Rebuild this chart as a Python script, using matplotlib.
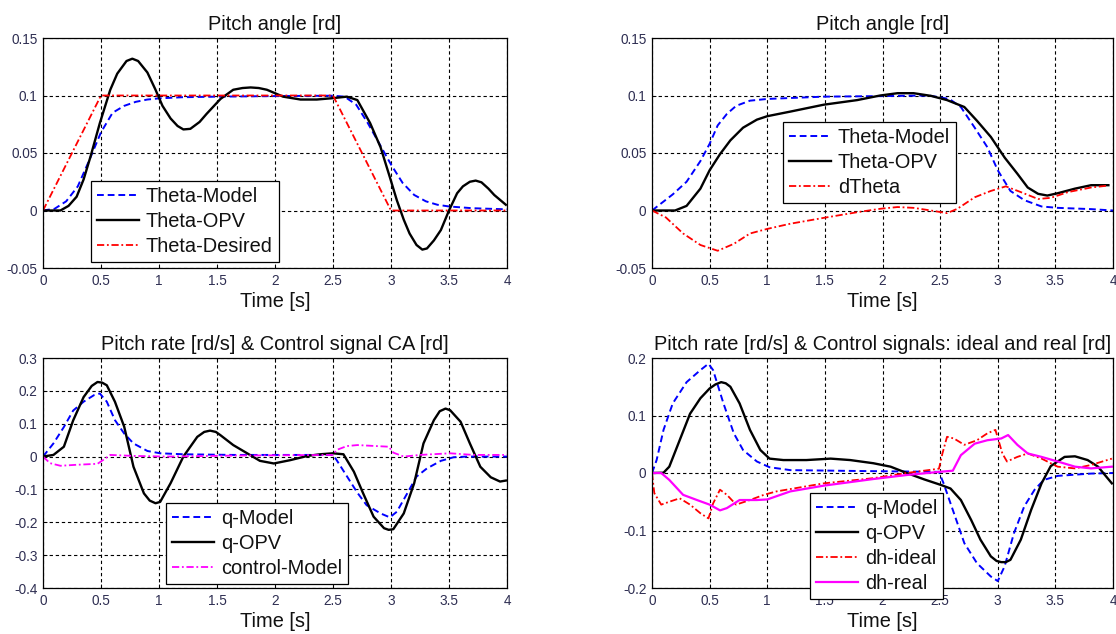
import matplotlib
matplotlib.use("Agg")
import matplotlib.pyplot as plt

plt.rcParams['font.family'] = ['Liberation Sans', 'DejaVu Sans']

# ---------------- Panel 1 : Pitch angle (top-left) ----------------
t1_desired = [0, 0.5, 2.5, 3.0, 4.0]
theta_desired = [0, 0.1, 0.1, 0, 0]

t1_model = [0, 0.1, 0.2, 0.3, 0.4, 0.5, 0.6, 0.7, 0.8, 0.9, 1.0, 1.2, 1.5, 2.0,
            2.5, 2.6, 2.7, 2.8, 2.9, 3.0, 3.1, 3.2, 3.3, 3.4, 3.5, 3.7, 4.0]
theta_model1 = [0, 0.0015, 0.008, 0.021, 0.044, 0.068, 0.085, 0.091, 0.0945, 0.0965,
                0.0975, 0.0985, 0.099, 0.0995, 0.0998, 0.099, 0.092, 0.076, 0.058,
                0.040, 0.024, 0.0135, 0.008, 0.005, 0.0035, 0.002, 0.001]

t1_opv = [0, 0.15, 0.22, 0.29, 0.35, 0.41, 0.49, 0.58, 0.64, 0.72, 0.77, 0.82, 0.9,
          0.97, 1.03, 1.1, 1.16, 1.21, 1.27, 1.35, 1.41, 1.53, 1.64, 1.72, 1.79,
          1.86, 1.93, 2.07, 2.22, 2.36, 2.5, 2.62, 2.71, 2.82, 2.91, 2.99, 3.05,
          3.11, 3.16, 3.22, 3.27, 3.31, 3.37, 3.43, 3.5, 3.57, 3.62, 3.68, 3.73,
          3.78, 3.84, 3.89, 3.99]
theta_opv1 = [0, 0, 0.004, 0.012, 0.027, 0.047, 0.076, 0.105, 0.119, 0.130, 0.132,
              0.130, 0.120, 0.105, 0.091, 0.080, 0.0735, 0.0705, 0.071, 0.077, 0.084,
              0.097, 0.105, 0.1065, 0.107, 0.1065, 0.105, 0.099, 0.0965, 0.0965,
              0.0977, 0.099, 0.096, 0.076, 0.055, 0.029, 0.009, -0.008, -0.020,
              -0.030, -0.034, -0.033, -0.026, -0.017, 0.0, 0.015, 0.021, 0.025,
              0.026, 0.0245, 0.019, 0.0135, 0.005]

# ---------------- Panel 2 : Pitch angle (top-right) ----------------
t2_model = [0, 0.18, 0.3, 0.42, 0.5, 0.57, 0.65, 0.73, 0.85, 1.0, 1.49, 2.0, 2.4,
            2.58, 2.68, 2.8, 2.91, 3.0, 3.11, 3.23, 3.38, 3.52, 3.81, 4.0]
theta_model2 = [0, 0.014, 0.025, 0.043, 0.058, 0.074, 0.084, 0.091, 0.0955, 0.097,
                0.099, 0.0995, 0.1, 0.097, 0.09, 0.072, 0.055, 0.035, 0.017, 0.009,
                0.0035, 0.0023, 0.0012, 0.0]

t2_opv = [0, 0.2, 0.3, 0.42, 0.5, 0.59, 0.68, 0.79, 0.91, 1.0, 1.2, 1.49, 1.78,
          1.98, 2.13, 2.27, 2.42, 2.56, 2.71, 2.82, 2.94, 3.06, 3.17, 3.26, 3.35,
          3.43, 3.52, 3.67, 3.81, 3.96]
theta_opv2 = [0, 0, 0.004, 0.019, 0.035, 0.049, 0.061, 0.072, 0.079, 0.082, 0.086,
              0.092, 0.096, 0.100, 0.102, 0.102, 0.0997, 0.096, 0.090, 0.078, 0.064,
              0.046, 0.032, 0.020, 0.0145, 0.013, 0.015, 0.019, 0.022, 0.022]

t2_dtheta = [0, 0.12, 0.27, 0.42, 0.57, 0.71, 0.85, 1.0, 1.2, 1.49, 1.78, 1.98,
             2.13, 2.27, 2.42, 2.56, 2.65, 2.8, 2.94, 3.07, 3.2, 3.35, 3.46, 3.61,
             3.81, 3.96]
dtheta = [0, -0.006, -0.020, -0.030, -0.035, -0.029, -0.020, -0.016, -0.0115,
          -0.0064, -0.0015, 0.0015, 0.003, 0.0023, 0.0, -0.0023, 0.0015, 0.0115,
          0.017, 0.021, 0.016, 0.010, 0.011, 0.016, 0.020, 0.0217]

# ---------------- Panel 3 : Pitch rate & control CA (bottom-left) ----------------
t3_qmodel = [0, 0.09, 0.18, 0.26, 0.35, 0.44, 0.49, 0.55, 0.62, 0.7, 0.78, 0.9,
             1.01, 1.21, 1.64, 2.5, 2.53, 2.62, 2.71, 2.79, 2.91, 2.99, 3.05, 3.14,
             3.22, 3.31, 3.43, 3.54, 3.66, 4.0]
q_model3 = [0, 0.04, 0.09, 0.14, 0.167, 0.187, 0.192, 0.167, 0.111, 0.07, 0.04,
            0.017, 0.01, 0.007, 0.005, 0.005, -0.01, -0.06, -0.11, -0.148, -0.173,
            -0.185, -0.168, -0.112, -0.061, -0.036, -0.013, -0.002, 0.0, 0.0]

t3_qopv = [0, 0.09, 0.18, 0.26, 0.35, 0.42, 0.47, 0.51, 0.55, 0.62, 0.7, 0.78,
           0.87, 0.92, 0.97, 1.01, 1.1, 1.21, 1.33, 1.39, 1.44, 1.49, 1.53, 1.64,
           1.76, 1.87, 1.99, 2.13, 2.28, 2.39, 2.5, 2.59, 2.68, 2.76, 2.85, 2.94,
           2.98, 3.02, 3.11, 3.2, 3.28, 3.37, 3.42, 3.47, 3.51, 3.6, 3.68, 3.77,
           3.86, 3.94, 3.99]
q_opv3 = [0, 0.005, 0.03, 0.11, 0.181, 0.215, 0.227, 0.225, 0.217, 0.167, 0.091,
          -0.031, -0.112, -0.134, -0.142, -0.138, -0.081, 0.0, 0.06, 0.075, 0.079,
          0.075, 0.065, 0.035, 0.01, -0.013, -0.021, -0.011, 0.002, 0.007, 0.01,
          0.007, -0.046, -0.112, -0.183, -0.218, -0.223, -0.221, -0.173, -0.081,
          0.04, 0.111, 0.138, 0.146, 0.141, 0.106, 0.04, -0.031, -0.063, -0.076,
          -0.073]

t3_ctrl = [0, 0.06, 0.15, 0.29, 0.47, 0.52, 0.58, 0.78, 1.07, 1.64, 2.5, 2.53,
           2.62, 2.71, 2.98, 3.02, 3.11, 3.25, 3.51, 3.71, 4.0]
control_model = [0, -0.02, -0.028, -0.025, -0.022, -0.01, 0.005, 0.002, 0.0, 0.003,
                 0.005, 0.02, 0.032, 0.035, 0.03, 0.012, 0.0, 0.005, 0.01, 0.005,
                 0.005]

# ---------------- Panel 4 : Pitch rate & control ideal/real (bottom-right) ----------------
t4_qmodel = [0, 0.04, 0.1, 0.18, 0.3, 0.42, 0.49, 0.53, 0.62, 0.71, 0.79, 0.91,
             1.02, 1.2, 1.78, 2.49, 2.53, 2.62, 2.71, 2.82, 2.94, 3.0, 3.06, 3.14,
             3.23, 3.32, 3.4, 3.52, 3.81, 4.0]
q_model4 = [0, 0.0225, 0.075, 0.121, 0.158, 0.179, 0.19, 0.179, 0.121, 0.069,
            0.04, 0.02, 0.01, 0.005, 0.0035, 0.002, -0.018, -0.07, -0.122, -0.157,
            -0.18, -0.188, -0.162, -0.105, -0.058, -0.029, -0.012, -0.005, -0.001,
            0.0]

t4_qopv = [0, 0.1, 0.15, 0.24, 0.33, 0.42, 0.5, 0.55, 0.6, 0.64, 0.68, 0.76, 0.85,
           0.94, 1.02, 1.14, 1.34, 1.55, 1.72, 1.92, 2.07, 2.21, 2.36, 2.51, 2.59,
           2.68, 2.77, 2.85, 2.94, 2.99, 3.03, 3.07, 3.11, 3.2, 3.29, 3.38, 3.46,
           3.58, 3.67, 3.78, 3.87, 3.99]
q_opv4 = [0, 0.0005, 0.011, 0.057, 0.103, 0.13, 0.147, 0.154, 0.158, 0.156, 0.15,
          0.121, 0.075, 0.04, 0.025, 0.0225, 0.0225, 0.025, 0.0225, 0.017, 0.011,
          0.0, -0.011, -0.021, -0.027, -0.047, -0.082, -0.116, -0.145, -0.153,
          -0.155, -0.155, -0.151, -0.116, -0.064, -0.018, 0.012, 0.028, 0.029,
          0.0225, 0.011, -0.018]

t4_ideal = [0, 0.02, 0.08, 0.15, 0.24, 0.33, 0.42, 0.49, 0.53, 0.59, 0.65, 0.73,
            0.85, 0.97, 1.08, 1.49, 1.92, 2.21, 2.49, 2.52, 2.56, 2.62, 2.71, 2.82,
            2.91, 2.98, 3.04, 3.08, 3.17, 3.26, 3.38, 3.52, 3.67, 3.81, 3.99]
dh_ideal = [0, -0.035, -0.055, -0.05, -0.044, -0.055, -0.07, -0.079, -0.053,
            -0.029, -0.038, -0.055, -0.047, -0.038, -0.032, -0.018, -0.009, 0.0,
            0.0075, 0.034, 0.063, 0.06, 0.049, 0.057, 0.069, 0.075, 0.034, 0.02,
            0.028, 0.034, 0.025, 0.011, 0.008, 0.014, 0.025]

t4_real = [0, 0.08, 0.15, 0.27, 0.39, 0.5, 0.59, 0.65, 0.76, 0.91, 1.0, 1.2, 1.49,
           1.92, 2.21, 2.51, 2.61, 2.68, 2.8, 2.91, 3.03, 3.09, 3.17, 3.26, 3.38,
           3.52, 3.67, 3.81, 3.99]
dh_real = [0, 0.0, -0.012, -0.038, -0.047, -0.055, -0.065, -0.061, -0.047, -0.047,
           -0.046, -0.032, -0.022, -0.0105, -0.0035, 0.0023, 0.004, 0.031, 0.051,
           0.057, 0.06, 0.066, 0.049, 0.034, 0.028, 0.02, 0.011, 0.008, 0.011]

# ---------------- tick labels ----------------
xticks = [0, 0.5, 1, 1.5, 2, 2.5, 3, 3.5, 4]
xticklabels = ['0', '0.5', '1', '1.5', '2', '2.5', '3', '3.5', '4']
yticks_angle = [-0.05, 0, 0.05, 0.1, 0.15]
yticklabels_angle = ['-0.05', '0', '0.05', '0.1', '0.15']
yticks_rate3 = [-0.4, -0.3, -0.2, -0.1, 0, 0.1, 0.2, 0.3]
yticklabels_rate3 = ['-0.4', '-0.3', '-0.2', '-0.1', '0', '0.1', '0.2', '0.3']
yticks_rate4 = [-0.2, -0.1, 0, 0.1, 0.2]
yticklabels_rate4 = ['-0.2', '-0.1', '0', '0.1', '0.2']

# ---------------- figure ----------------
W, H = 1116, 634
fig = plt.figure(figsize=(W / 100, H / 100), dpi=100)

def px_axes(l, t, r, b):
    return fig.add_axes([l / W, 1 - b / H, (r - l) / W, (b - t) / H])

ax1 = px_axes(43, 38, 507, 268)
ax2 = px_axes(652, 38, 1113, 268)
ax3 = px_axes(43, 358, 507, 588)
ax4 = px_axes(652, 358, 1113, 588)

TICK_COLOR = '#2e2e52'
LBL = 14.4
TCK = 9.8

def style(ax, yt, ytl, ylim, title):
    ax.set_xlim(0, 4)
    ax.set_ylim(*ylim)
    ax.set_xticks(xticks)
    ax.set_xticklabels(xticklabels)
    ax.set_yticks(yt)
    ax.set_yticklabels(ytl)
    ax.tick_params(direction='in', length=3, width=0.6, colors='black',
                   labelcolor=TICK_COLOR, labelsize=TCK, top=True, right=True, pad=4)
    ax.grid(True, color='black', linestyle=(0, (3, 2.5)), linewidth=0.8)
    for s in ax.spines.values():
        s.set_linewidth(0.9)
        s.set_color('black')
    ax.set_title(title, fontsize=LBL, pad=6, color='#111111')
    ax.set_xlabel('Time [s]', fontsize=LBL, labelpad=3, color='#111111')

def legend(ax, x, y):
    lg = ax.legend(loc='upper left', bbox_to_anchor=(x, y), fontsize=LBL,
                   frameon=True, fancybox=False, edgecolor='black', framealpha=1,
                   handlelength=2.1, handletextpad=0.35, labelspacing=0.3,
                   borderpad=0.3, borderaxespad=0)
    lg.get_frame().set_linewidth(0.9)
    for txt in lg.get_texts():
        txt.set_color('#111111')
    return lg

BLUE = (0, 0, 1)
RED = (1, 0, 0)
MAG = (1, 0, 1)
DASH = (0, (3.5, 2))
DASHDOT = (0, (4, 1.5, 1, 1.5))

# Panel 1
ax1.plot(t1_model, theta_model1, color=BLUE, ls=DASH, lw=1.4, label='Theta-Model')
ax1.plot(t1_opv, theta_opv1, color='black', lw=1.7, label='Theta-OPV')
ax1.plot(t1_desired, theta_desired, color=RED, ls=DASHDOT, lw=1.3, label='Theta-Desired')
style(ax1, yticks_angle, yticklabels_angle, (-0.05, 0.15), 'Pitch angle [rd]')
legend(ax1, 0.103, 0.378)

# Panel 2
ax2.plot(t2_model, theta_model2, color=BLUE, ls=DASH, lw=1.4, label='Theta-Model')
ax2.plot(t2_opv, theta_opv2, color='black', lw=1.7, label='Theta-OPV')
ax2.plot(t2_dtheta, dtheta, color=RED, ls=DASHDOT, lw=1.3, label='dTheta')
style(ax2, yticks_angle, yticklabels_angle, (-0.05, 0.15), 'Pitch angle [rd]')
legend(ax2, 0.284, 0.635)

# Panel 3
ax3.plot(t3_qmodel, q_model3, color=BLUE, ls=DASH, lw=1.4, label='q-Model')
ax3.plot(t3_qopv, q_opv3, color='black', lw=1.7, label='q-OPV')
ax3.plot(t3_ctrl, control_model, color=MAG, ls=DASHDOT, lw=1.3, label='control-Model')
style(ax3, yticks_rate3, yticklabels_rate3, (-0.4, 0.3),
      'Pitch rate [rd/s] & Control signal CA [rd]')
legend(ax3, 0.265, 0.37)

# Panel 4
ax4.plot(t4_qmodel, q_model4, color=BLUE, ls=DASH, lw=1.4, label='q-Model')
ax4.plot(t4_qopv, q_opv4, color='black', lw=1.7, label='q-OPV')
ax4.plot(t4_ideal, dh_ideal, color=RED, ls=DASHDOT, lw=1.3, label='dh-ideal')
ax4.plot(t4_real, dh_real, color=MAG, lw=1.6, label='dh-real')
style(ax4, yticks_rate4, yticklabels_rate4, (-0.2, 0.2),
      'Pitch rate [rd/s] & Control signals: ideal and real [rd]')
legend(ax4, 0.343, 0.413)

fig.savefig('out.png', dpi=100)
